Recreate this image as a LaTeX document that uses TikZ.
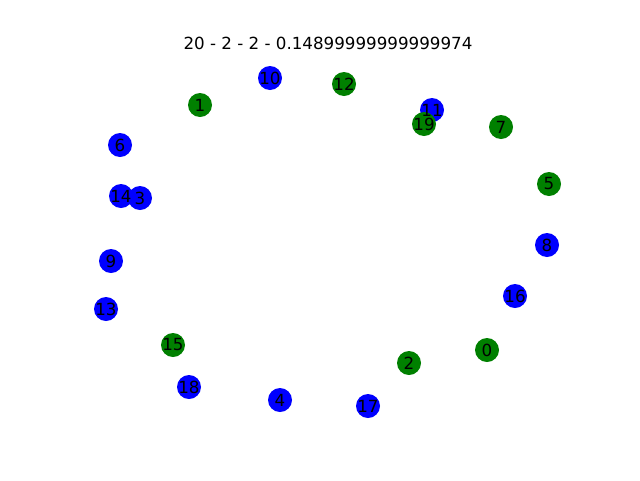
\documentclass[tikz,border=0pt]{standalone}
\usepackage{fontspec}
\setmainfont{DejaVu Sans}
\definecolor{nxblue}{HTML}{0000FF}
\definecolor{nxgreen}{HTML}{008000}
\tikzset{
  vb/.style={circle,fill=nxblue,draw=none,minimum size=24pt,inner sep=0pt},
  vg/.style={circle,fill=nxgreen,draw=none,minimum size=24pt,inner sep=0pt},
  lbl/.style={font=\fontsize{16.7pt}{18pt}\selectfont,text=black,inner sep=0pt}
}
\begin{document}
\begin{tikzpicture}[x=1pt,y=-1pt]
\useasboundingbox (0,0) rectangle (640,480);
\node[lbl] (title) at (328,43) {20 - 2 - 2 - 0.14899999999999974};
% nodes in draw order 0..19
\node[vg] (n0) at (487,350) {};
\node[vg] (n1) at (200,105) {};
\node[vg] (n2) at (409,363) {};
\node[vb] (n3) at (140,198) {};
\node[vb] (n4) at (280,400) {};
\node[vg] (n5) at (549,184) {};
\node[vb] (n6) at (120,145) {};
\node[vg] (n7) at (501,127) {};
\node[vb] (n8) at (547,245) {};
\node[vb] (n9) at (111,261) {};
\node[vb] (n10) at (270,78) {};
\node[vb] (n11) at (432,110) {};
\node[vg] (n12) at (344,84) {};
\node[vb] (n13) at (106,309) {};
\node[vb] (n14) at (121,196) {};
\node[vg] (n15) at (173,345) {};
\node[vb] (n16) at (515,296) {};
\node[vb] (n17) at (368,406) {};
\node[vb] (n18) at (189,387) {};
\node[vg] (n19) at (424,124) {};
% labels
\foreach \i in {0,...,19} {\node[lbl] at (n\i.center) {\i};}
\end{tikzpicture}
\end{document}
